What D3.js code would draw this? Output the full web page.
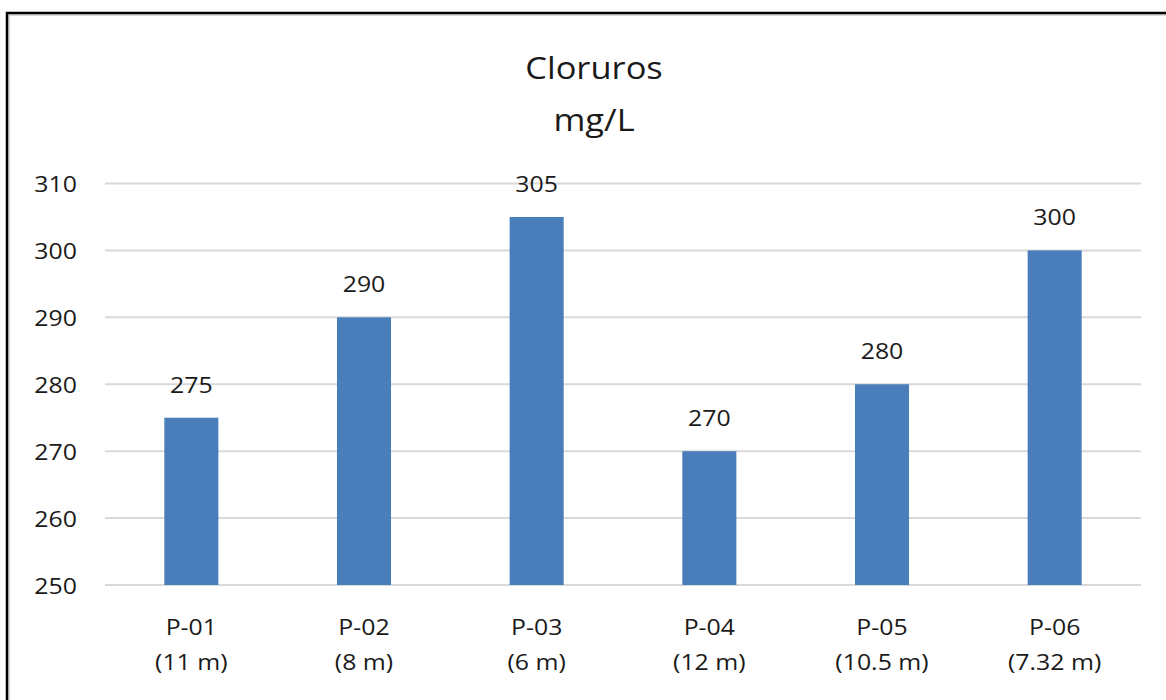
<!DOCTYPE html>
<html>
<head>
<meta charset="utf-8">
<script src="https://cdn.jsdelivr.net/npm/d3@7"></script>
<style>
  body { margin: 0; background: #fff; }
  text { font-family: "Open Sans", sans-serif; fill: #1a1a1a; }
</style>
</head>
<body>
<svg width="1166" height="700"></svg>
<script>
// data
var puntos = ["P-01", "P-02", "P-03", "P-04", "P-05", "P-06"]
var profundidad = ["(11 m)", "(8 m)", "(6 m)", "(12 m)", "(10.5 m)", "(7.32 m)"]
var cloruros = [275, 290, 305, 270, 280, 300]
var yTicks = [250, 260, 270, 280, 290, 300, 310]
var titulo = ["Cloruros", "mg/L"]

var svg = d3.select("svg")
var sx = 1.13 // text looks a bit wide in the original

// frame (only top and left are visible)
svg.append("path").attr("d", "M9,700 V15 H1166").attr("fill", "none")
    .attr("stroke", "#d0d0d0").attr("stroke-width", 1.5)
svg.append("path").attr("d", "M7,700 V13 H1166").attr("fill", "none")
    .attr("stroke", "#000").attr("stroke-width", 2.5)

var plotLeft = 105, plotRight = 1141, plotTop = 183.5, plotBottom = 585

var x = d3.scaleBand().domain(puntos).range([plotLeft, plotRight])
    .paddingInner(0.687).paddingOuter(0.3435)
var y = d3.scaleLinear().domain([250, 310]).range([plotBottom, plotTop])

function label(g, tx, ty, str, size, anchor) {
    g.append("text")
        .attr("transform", "translate(" + tx + "," + ty + ") scale(" + sx + ",1)")
        .attr("text-anchor", anchor || "middle")
        .style("font-size", size + "px")
        .text(str)
}

// gridlines
svg.append("g").selectAll("line").data(yTicks).join("line")
    .attr("x1", plotLeft).attr("x2", plotRight)
    .attr("y1", d => y(d)).attr("y2", d => y(d))
    .attr("stroke", "#d9d9d9").attr("stroke-width", 2)

// y labels
var ya = svg.append("g")
yTicks.forEach(function(t) { label(ya, 77, y(t) + 8.5, t, 22, "end") })

// bars
svg.append("g").selectAll("rect").data(cloruros).join("rect")
    .attr("x", (d, i) => x(puntos[i]))
    .attr("width", x.bandwidth())
    .attr("y", d => y(d))
    .attr("height", d => y(250) - y(d))
    .attr("fill", "#4a7ebb")

// value labels
var vl = svg.append("g")
cloruros.forEach(function(d, i) {
    label(vl, x(puntos[i]) + x.bandwidth() / 2, y(d) - 25, d, 22)
})

// category labels
var xa = svg.append("g")
puntos.forEach(function(p, i) {
    var cx = x(p) + x.bandwidth() / 2
    label(xa, cx, 635, p, 22)
    label(xa, cx, 670, profundidad[i], 22)
})

// title
var tg = svg.append("g")
label(tg, 594, 79, titulo[0], 30.5)
label(tg, 594, 131, titulo[1], 30.5)
</script>
</body>
</html>
